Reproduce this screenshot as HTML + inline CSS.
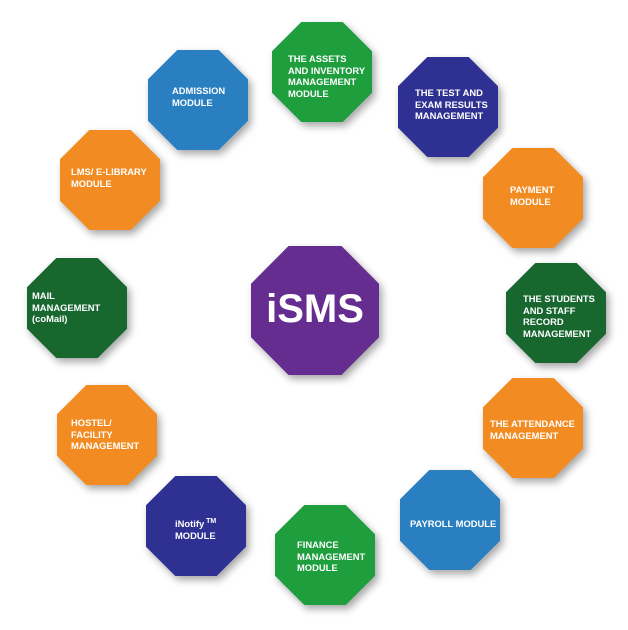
<!DOCTYPE html>
<html><head><style>
body{margin:0;width:628px;height:630px;background:#fff;position:relative;overflow:hidden;font-family:"Liberation Sans",sans-serif}
.w{position:absolute;width:100px;height:100px;filter:drop-shadow(3px 4px 4px rgba(0,0,0,.35))}
.o{width:100%;height:100%;clip-path:polygon(29.3% 0,70.7% 0,100% 29.3%,100% 70.7%,70.7% 100%,29.3% 100%,0 70.7%,0 29.3%)}
.t{position:absolute;color:#fff;font-weight:bold;font-size:9.4px;line-height:11.6px;white-space:nowrap;margin-top:2px}
.or{background:#f28c22}.bl{background:#2a7fc1}.gr{background:#1f9e3e}.db{background:#2e3192}.dg{background:#17672f}.pu{background:#662d91}
</style></head><body>
<div class="w" style="left:148px;top:50px"><div class="o bl"></div></div>
<div class="w" style="left:272px;top:22px"><div class="o gr"></div></div>
<div class="w" style="left:398px;top:57px"><div class="o db"></div></div>
<div class="w" style="left:483px;top:148px"><div class="o or"></div></div>
<div class="w" style="left:506px;top:263px"><div class="o dg"></div></div>
<div class="w" style="left:483px;top:378px"><div class="o or"></div></div>
<div class="w" style="left:400px;top:470px"><div class="o bl"></div></div>
<div class="w" style="left:275px;top:505px"><div class="o gr"></div></div>
<div class="w" style="left:146px;top:476px"><div class="o db"></div></div>
<div class="w" style="left:57px;top:385px"><div class="o or"></div></div>
<div class="w" style="left:27px;top:258px"><div class="o dg"></div></div>
<div class="w" style="left:60px;top:130px"><div class="o or"></div></div>
<div class="w" style="left:251px;top:246px;width:128px;height:129px"><div class="o pu"></div></div>

<div class="t" style="left:172px;top:83px">ADMISSION<br>MODULE</div>
<div class="t" style="left:288px;top:51px">THE ASSETS<br>AND INVENTORY<br>MANAGEMENT<br>MODULE</div>
<div class="t" style="left:415px;top:85px">THE TEST AND<br>EXAM RESULTS<br>MANAGEMENT</div>
<div class="t" style="left:510px;top:182px">PAYMENT<br>MODULE</div>
<div class="t" style="left:523px;top:291px">THE STUDENTS<br>AND STAFF<br>RECORD<br>MANAGEMENT</div>
<div class="t" style="left:490px;top:416px">THE ATTENDANCE<br>MANAGEMENT</div>
<div class="t" style="left:410px;top:516px">PAYROLL MODULE</div>
<div class="t" style="left:297px;top:537px">FINANCE<br>MANAGEMENT<br>MODULE</div>
<div class="t" style="left:175px;top:514px">iNotify<sup style="font-size:7px;vertical-align:4px"> TM</sup><br>MODULE</div>
<div class="t" style="left:71px;top:415px">HOSTEL/<br>FACILITY<br>MANAGEMENT</div>
<div class="t" style="left:32px;top:288px">MAIL<br>MANAGEMENT<br>(coMail)</div>
<div class="t" style="left:71px;top:164px">LMS/ E-LIBRARY<br>MODULE</div>
<div class="t" style="left:251px;top:284px;width:128px;text-align:center;font-size:40px;line-height:46px">iSMS</div>
</body></html>
